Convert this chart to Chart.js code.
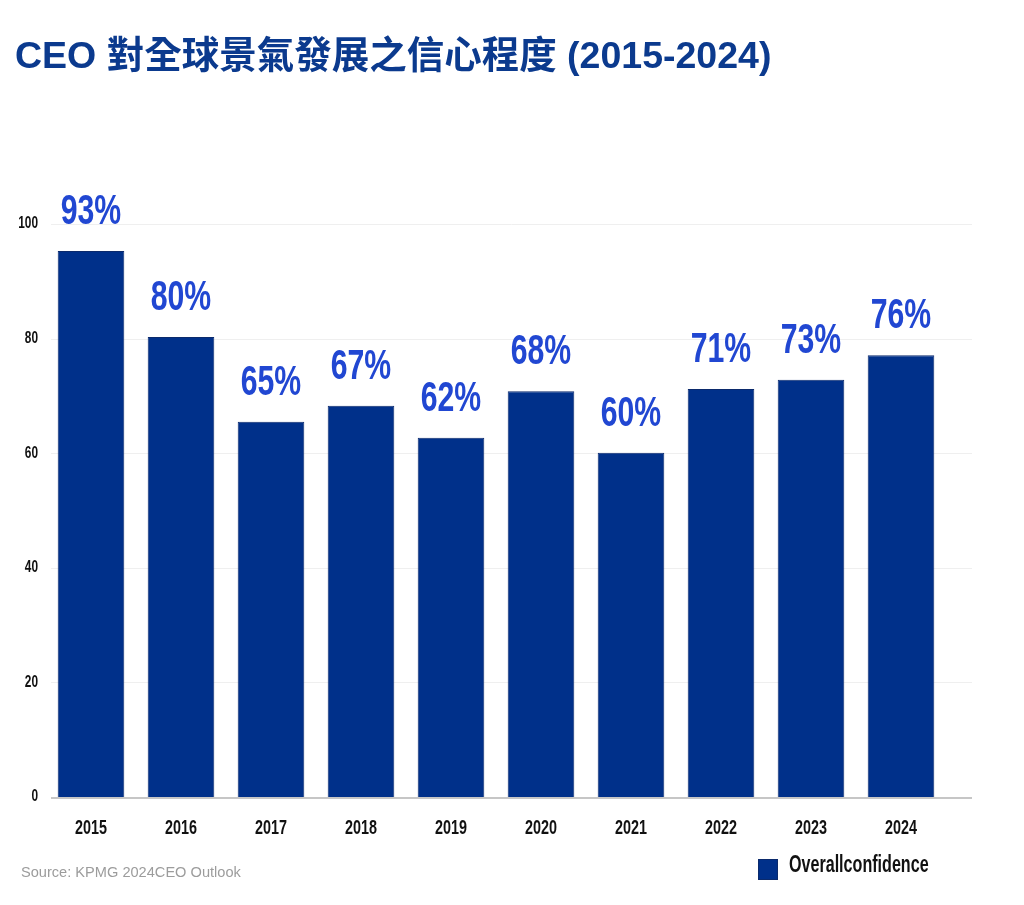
<!DOCTYPE html>
<html>
<head>
<meta charset="utf-8">
<script src="https://cdn.jsdelivr.net/npm/chart.js@4.4.1/dist/chart.umd.min.js"></script>
<style>
  html, body { margin: 0; padding: 0; background: #fff; }
  #wrap { position: relative; width: 1024px; height: 905px; overflow: hidden; }
  #chart { position: absolute; left: 0; top: 0; }
  .title {
    position: absolute; left: 15px; top: 24px;
    font: bold 37.5px "Liberation Sans", "Noto Sans CJK TC", sans-serif;
    color: #0b3a8e; white-space: nowrap;
  }
  .source {
    position: absolute; left: 21px; top: 864px;
    font: 14.6px "Liberation Sans", Arial, sans-serif;
    color: #9c9c9c; white-space: nowrap;
  }
</style>
</head>
<body>
<div id="wrap">
  <canvas id="chart" width="1024" height="905"></canvas>
  <div class="title">CEO 對全球景氣發展之信心程度 (2015-2024)</div>
  <div class="source">Source: KPMG 2024CEO Outlook</div>
</div>
<script>
const years = ["2015", "2016", "2017", "2018", "2019", "2020", "2021", "2022", "2023", "2024"];
const barValues = [95.3, 80.3, 65.5, 68.3, 62.7, 70.8, 60.1, 71.2, 72.8, 77.1];
const barLabels = ["93%", "80%", "65%", "67%", "62%", "68%", "60%", "71%", "73%", "76%"];
const yTicks = [0, 20, 40, 60, 80, 100];
const seriesName = "Overallconfidence";

const BOLD = "'Liberation Sans', Arial, sans-serif";

// bold text squeezed sideways, to get the narrow look of the original
function narrowText(ctx, text, x, y, size, squeeze, align, baseline, color) {
  ctx.save();
  ctx.font = "bold " + size + "px " + BOLD;
  ctx.fillStyle = color;
  ctx.textAlign = align;
  ctx.textBaseline = baseline;
  ctx.translate(x, y);
  ctx.scale(squeeze, 1);
  ctx.fillText(text, 0, 0);
  ctx.restore();
}

// light grid lines that run past the last bar, plus the grey base line
const gridPlugin = {
  id: "grid",
  beforeDatasetsDraw(chart) {
    const { ctx, scales: { y } } = chart;
    ctx.save();
    yTicks.forEach((v) => {
      const py = Math.round(y.getPixelForValue(v));
      ctx.beginPath();
      ctx.strokeStyle = v === 0 ? "#c6c6c6" : "#efefef";
      ctx.lineWidth = v === 0 ? 2 : 1;
      ctx.moveTo(51, py + (v === 0 ? 1 : 0.5));
      ctx.lineTo(972, py + (v === 0 ? 1 : 0.5));
      ctx.stroke();
    });
    ctx.restore();
  },
};

// axis tick labels, bar labels and legend
const textPlugin = {
  id: "texts",
  afterDatasetsDraw(chart) {
    const { ctx, scales: { x, y } } = chart;
    const meta = chart.getDatasetMeta(0);
    const ds = chart.data.datasets[0];

    yTicks.forEach((v) => {
      narrowText(ctx, String(v), 38, y.getPixelForValue(v), 16, 0.74, "right", "middle", "#111");
    });
    chart.data.labels.forEach((lab, i) => {
      narrowText(ctx, lab, x.getPixelForValue(i), 828, 20, 0.72, "center", "middle", "#111");
    });
    meta.data.forEach((bar, i) => {
      narrowText(ctx, barLabels[i], bar.x, bar.y - 27, 42, 0.72, "center", "alphabetic", "#2147d2");
    });

    ctx.save();
    ctx.fillStyle = ds.backgroundColor;
    ctx.strokeStyle = ds.borderColor;
    ctx.lineWidth = 1;
    ctx.fillRect(758, 859, 20, 21);
    ctx.strokeRect(758.5, 859.5, 19, 20);
    ctx.restore();
    narrowText(ctx, ds.label, 789, 866, 23, 0.7, "left", "middle", "#111");
  },
};

new Chart(document.getElementById("chart"), {
  type: "bar",
  data: {
    labels: years,
    datasets: [
      {
        label: seriesName,
        data: barValues,
        backgroundColor: "#00308a",
        borderColor: "#0b2a6c",
        borderWidth: 1,
        borderSkipped: "bottom",
        barPercentage: 0.74,
        categoryPercentage: 1,
      },
    ],
  },
  options: {
    responsive: false,
    animation: false,
    devicePixelRatio: 1,
    layout: { padding: { top: 224, left: 46, right: 78, bottom: 108 } },
    plugins: {
      tooltip: { enabled: false },
      legend: { display: false },
    },
    scales: {
      x: { display: false },
      y: { display: false, min: 0, max: 100, ticks: { stepSize: 20 } },
    },
  },
  plugins: [gridPlugin, textPlugin],
});
</script>
</body>
</html>
